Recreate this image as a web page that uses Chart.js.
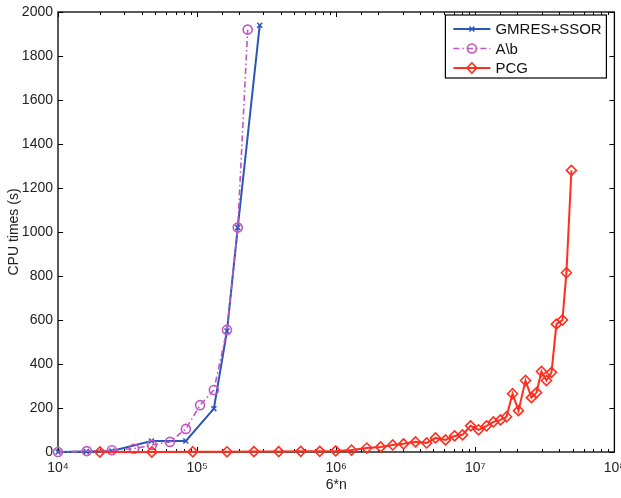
<!DOCTYPE html>
<html>
<head>
<meta charset="utf-8">
<script src="https://cdn.jsdelivr.net/npm/chart.js@4"></script>
<style>
    html, body { margin: 0; padding: 0; background: #fff; overflow: hidden; }
    #wrap { width: 621px; height: 498px; position: relative; }
</style>
</head>
<body>
<div id="wrap"><canvas id="cpuChart"></canvas></div>
<script>
// problem size (6*n) and CPU time in seconds
const gmresN = [1e4, 1.6e4, 2.44e4, 4.7e4, 8.3e4, 1.32e5, 1.64e5, 1.96e5, 2.82e5];
const gmresTime = [0, 2, 5, 50, 50, 197, 550, 1020, 1940];

const directN = [1e4, 1.61e4, 2.44e4, 3.52e4, 4.73e4, 6.37e4, 8.3e4, 1.05e5, 1.32e5, 1.64e5, 1.96e5, 2.31e5];
const directTime = [0, 4, 8, 15, 32, 46, 105, 213, 282, 555, 1020, 1920];

const pcgN = [2.0e4, 4.73e4, 9.31e4, 1.64e5, 2.56e5, 3.86e5, 5.56e5, 7.62e5, 9.92e5, 1.29e6,
    1.66e6, 2.09e6, 2.55e6, 3.05e6, 3.72e6, 4.47e6, 5.18e6, 6.11e6, 7.10e6, 8.09e6,
    9.25e6, 1.055e7, 1.205e7, 1.352e7, 1.518e7, 1.676e7, 1.852e7, 2.045e7, 2.296e7, 2.535e7,
    2.754e7, 2.99e7, 3.25e7, 3.53e7, 3.83e7, 4.23e7, 4.52e7, 4.91e7];
const pcgTime = [0, 0, 1, 1, 2, 2, 3, 3, 5, 9,
    18, 23, 32, 37, 46, 41, 64, 55, 73, 78,
    119, 101, 119, 137, 146, 160, 265, 188, 325, 247,
    270, 366, 325, 362, 581, 600, 815, 1280];

const seriesNames = ["GMRES+SSOR", "A\\b", "PCG"];
const xMin = 1e4, xMax = 1e8;
const yMin = 0, yMax = 2000, yStep = 200;

const FONT = "'Liberation Sans', Arial, Helvetica, sans-serif";
const SUP = {"0":"⁰","1":"¹","2":"²","3":"³","4":"⁴","5":"⁵","6":"⁶","7":"⁷","8":"⁸","9":"⁹","-":"⁻"};

function toPoints(xs, ys) {
    return xs.map((x, i) => ({x: x, y: ys[i]}));
}

function drawMarker(ctx, style, x, y, r) {
    ctx.beginPath();
    if (style === 'circle') {
        ctx.arc(x, y, r, 0, Math.PI * 2);
    } else if (style === 'rectRot') {
        ctx.moveTo(x - r, y); ctx.lineTo(x, y - r); ctx.lineTo(x + r, y); ctx.lineTo(x, y + r); ctx.closePath();
    } else if (style === 'crossRot') {
        const d = r * Math.SQRT1_2;
        ctx.moveTo(x - d, y - d); ctx.lineTo(x + d, y + d);
        ctx.moveTo(x + d, y - d); ctx.lineTo(x - d, y + d);
    }
    ctx.stroke();
}

// MATLAB-like box with inward tick marks
const boxTicks = {
    id: 'boxTicks',
    beforeDatasetsDraw(chart) {
        const {ctx, chartArea: a, scales} = chart;
        ctx.save();
        ctx.strokeStyle = '#000';
        ctx.lineWidth = 1;
        ctx.beginPath();
        scales.y.ticks.forEach(t => {
            const py = Math.round(scales.y.getPixelForValue(t.value)) + 0.5;
            ctx.moveTo(a.left, py); ctx.lineTo(a.left + 5, py);
            ctx.moveTo(a.right, py); ctx.lineTo(a.right - 5, py);
        });
        scales.x.ticks.forEach(t => {
            const e = Math.log10(t.value);
            const len = Math.abs(e - Math.round(e)) < 1e-9 ? 5 : 3;
            const px = Math.round(scales.x.getPixelForValue(t.value)) + 0.5;
            ctx.moveTo(px, a.bottom); ctx.lineTo(px, a.bottom - len);
            ctx.moveTo(px, a.top); ctx.lineTo(px, a.top + len);
        });
        ctx.stroke();
        ctx.lineWidth = 1.3;
        ctx.strokeRect(a.left, a.top, a.right - a.left, a.bottom - a.top);
        ctx.restore();
    }
};

const innerLegend = {
    id: 'innerLegend',
    afterDraw(chart) {
        const {ctx, chartArea: a} = chart;
        const w = 161, h = 63;
        const x0 = a.right - w - 8, y0 = a.top + 3;
        ctx.save();
        ctx.fillStyle = '#fff';
        ctx.fillRect(x0, y0, w, h);
        ctx.strokeStyle = '#000';
        ctx.lineWidth = 1.2;
        ctx.strokeRect(x0, y0, w, h);
        chart.data.datasets.forEach((ds, i) => {
            const y = y0 + 14 + i * 19.5;
            ctx.strokeStyle = ds.borderColor;
            ctx.lineWidth = ds.borderWidth;
            ctx.setLineDash(ds.borderDash || []);
            ctx.beginPath();
            ctx.moveTo(x0 + 8, y); ctx.lineTo(x0 + 45, y);
            ctx.stroke();
            ctx.setLineDash([]);
            ctx.strokeStyle = ds.pointBorderColor;
            ctx.lineWidth = ds.pointBorderWidth;
            drawMarker(ctx, ds.pointStyle, x0 + 26.5, y, ds.pointRadius);
            ctx.fillStyle = '#111';
            ctx.font = '15px ' + FONT;
            ctx.textBaseline = 'middle';
            ctx.fillText(ds.label, x0 + 50, y + 1);
        });
        ctx.restore();
    }
};

new Chart("cpuChart", {
    type: "line",
    data: {
        datasets: [{
            label: seriesNames[0],
            data: toPoints(gmresN, gmresTime),
            borderColor: "#2b55b8",
            borderWidth: 2,
            pointStyle: "crossRot",
            pointRadius: 3.5,
            pointBorderColor: "#2b55b8",
            pointBorderWidth: 1.5,
            pointBackgroundColor: "rgba(0,0,0,0)",
            order: 3,
            clip: false
        }, {
            label: seriesNames[1],
            data: toPoints(directN, directTime),
            borderColor: "#c056c2",
            borderWidth: 1.6,
            borderDash: [6, 3, 1.5, 3],
            pointStyle: "circle",
            pointRadius: 4.5,
            pointBorderColor: "#c056c2",
            pointBorderWidth: 1.6,
            pointBackgroundColor: "rgba(0,0,0,0)",
            order: 2,
            clip: false
        }, {
            label: seriesNames[2],
            data: toPoints(pcgN, pcgTime),
            borderColor: "#ff2e1f",
            borderWidth: 2,
            pointStyle: "rectRot",
            pointRadius: 5,
            pointBorderColor: "#ff2e1f",
            pointBorderWidth: 1.6,
            pointBackgroundColor: "rgba(0,0,0,0)",
            order: 1,
            clip: false
        }]
    },
    options: {
        responsive: true,
        maintainAspectRatio: false,
        animation: false,
        layout: { padding: { top: 12, right: 5, left: 0, bottom: 0 } },
        plugins: {
            legend: { display: false },
            tooltip: { enabled: false }
        },
        elements: { line: { tension: 0 } },
        scales: {
            x: {
                type: 'logarithmic',
                min: xMin,
                max: xMax,
                grid: { display: false, drawTicks: false },
                border: { display: false },
                ticks: {
                    autoSkip: false,
                    maxRotation: 0,
                    padding: 8,
                    color: '#222',
                    font: { family: FONT, size: 14 },
                    callback: function(value) {
                        const e = Math.log10(value);
                        if (Math.abs(e - Math.round(e)) > 1e-9) return '';
                        return '10' + String(Math.round(e)).split('').map(c => SUP[c]).join('');
                    }
                },
                title: {
                    display: true,
                    text: '6*n',
                    color: '#222',
                    font: { family: FONT, size: 14 },
                    padding: { top: 0, bottom: 4 }
                },
                afterFit: function(scale) {
                    scale.height = 46;
                    scale.paddingLeft = 0;
                    scale.paddingRight = 0;
                }
            },
            y: {
                min: yMin,
                max: yMax,
                grid: { display: false, drawTicks: false },
                border: { display: false },
                ticks: {
                    stepSize: yStep,
                    padding: 5,
                    color: '#222',
                    font: { family: FONT, size: 14 },
                    callback: function(value) { return String(value); }
                },
                title: {
                    display: true,
                    text: 'CPU times (s)',
                    color: '#222',
                    font: { family: FONT, size: 14 },
                    padding: { top: 6, bottom: 0 }
                },
                afterFit: function(scale) {
                    scale.width = 58;
                    scale.paddingTop = 0;
                    scale.paddingBottom = 0;
                }
            }
        }
    },
    plugins: [boxTicks, innerLegend]
});
</script>
</body>
</html>
